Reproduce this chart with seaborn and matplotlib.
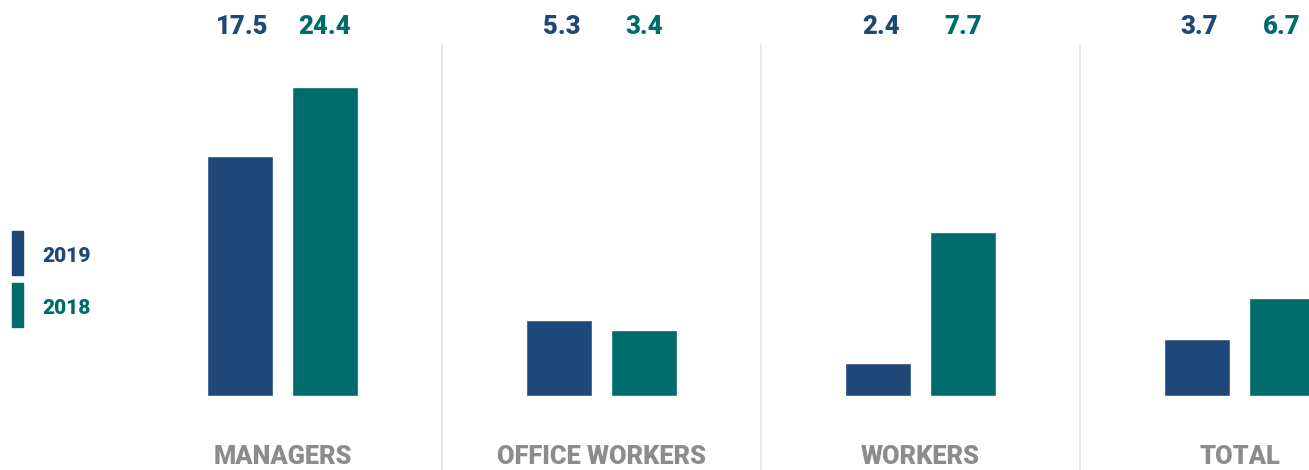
import matplotlib
matplotlib.use('Agg')
import matplotlib.pyplot as plt
import matplotlib.transforms as mtransforms
import matplotlib.patches as mpatches
import pandas as pd
import seaborn as sns

# data
categories = ['MANAGERS', 'OFFICE WORKERS', 'WORKERS', 'TOTAL']
years = ['2019', '2018']
labels_2019 = [17.5, 5.3, 2.4, 3.7]
labels_2018 = [24.4, 3.4, 7.7, 6.7]
# bar heights as drawn in the picture (not proportional to the labels)
heights_2019 = [19.0, 6.0, 2.6, 4.5]
heights_2018 = [24.5, 5.2, 13.0, 7.8]

blue = '#1e4878'
teal = '#006b6b'
grey = '#8c8c8c'

df = pd.DataFrame({
    'category': categories * 2,
    'year': ['2019'] * 4 + ['2018'] * 4,
    'height': heights_2019 + heights_2018,
    'label': labels_2019 + labels_2018,
})

sns.set_style('white')
plt.rcParams['font.family'] = ['Roboto', 'DejaVu Sans']

fig = plt.figure(figsize=(13.09, 4.70), dpi=100)
ax = fig.add_axes([0, 0, 1, 1])

sns.barplot(data=df, x='category', y='height', hue='year', hue_order=years,
            palette=[blue, teal], width=0.533, gap=0.215, saturation=1,
            legend=False, ax=ax)

ax.set_xlim(-0.8856, 3.218)
ax.set_ylim(-5.86, 31.38)
ax.axis('off')

trans = mtransforms.blended_transform_factory(ax.transData, ax.transAxes)

# separators
for i in range(len(categories) - 1):
    ax.plot([i + 0.5, i + 0.5], [0, 0.905], transform=trans,
            color='#e3e3e3', lw=1.2, zorder=0)

# value labels and category labels
for i, cat in enumerate(categories):
    ax.text(i - 0.125, 0.943, f'{labels_2019[i]:.1f}', transform=trans,
            ha='center', va='center', fontsize=18.5, fontweight='black', color=blue)
    ax.text(i + 0.133, 0.943, f'{labels_2018[i]:.1f}', transform=trans,
            ha='center', va='center', fontsize=18.5, fontweight='black', color=teal)
    ax.text(i, 0.027, cat, transform=trans, ha='center', va='center',
            fontsize=18.3, fontweight='black', color=grey)

# legend on the left
for y0, yr, c in [(195 / 470, '2019', blue), (143 / 470, '2018', teal)]:
    fig.patches.append(mpatches.Rectangle((12 / 1309, y0), 11 / 1309, 44 / 470,
                                          transform=fig.transFigure, color=c))
    fig.text(42 / 1309, y0 + 19 / 470, yr, ha='left', va='center',
             fontsize=15, fontweight='black', color=c)

plt.savefig('out.png', dpi=100)
